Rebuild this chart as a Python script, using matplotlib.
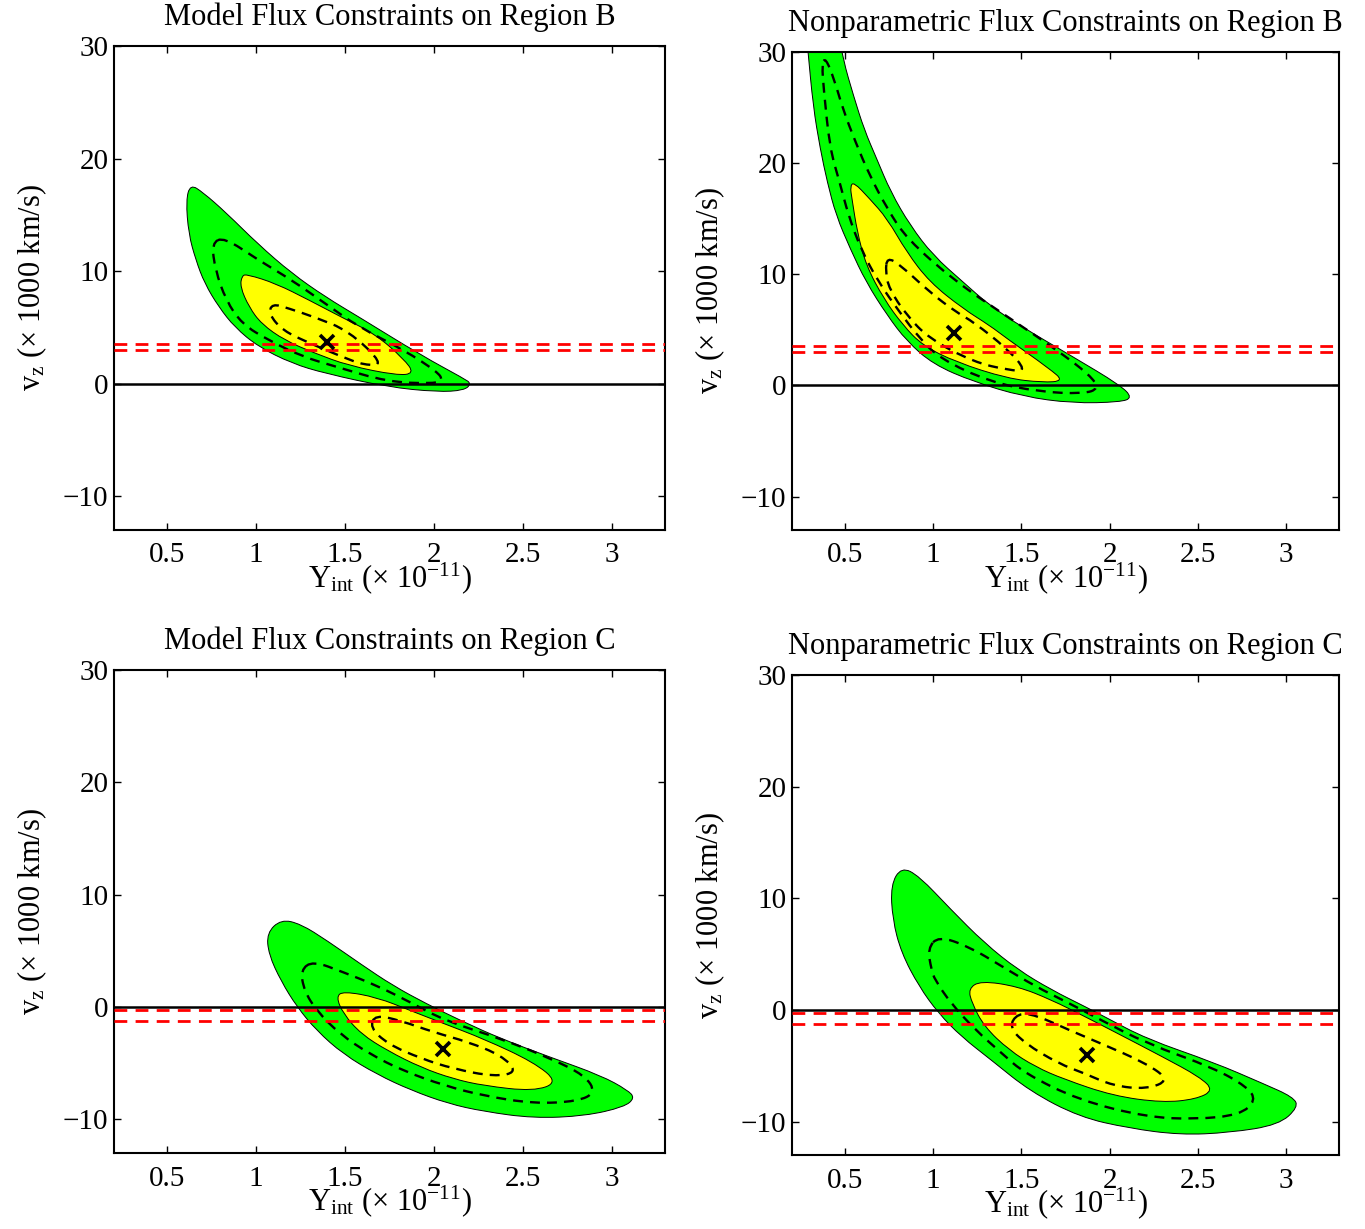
import numpy as np
import matplotlib.pyplot as plt
from matplotlib.path import Path
from matplotlib.patches import PathPatch

plt.rcParams['font.family'] = ['Liberation Serif', 'DejaVu Serif']
plt.rcParams['mathtext.fontset'] = 'custom'
plt.rcParams['mathtext.rm'] = 'Liberation Serif'
plt.rcParams['mathtext.it'] = 'Liberation Serif:italic'
plt.rcParams['axes.unicode_minus'] = True

# ---- data (Y_int in 1e-11, v_z in 1000 km/s) ----
titles = ['Model Flux Constraints on Region B',
          'Nonparametric Flux Constraints on Region B',
          'Model Flux Constraints on Region C',
          'Nonparametric Flux Constraints on Region C']

x_ticks = [0.5, 1, 1.5, 2, 2.5, 3]
x_tick_labels = ['0.5', '1', '1.5', '2', '2.5', '3']
y_ticks = [-10, 0, 10, 20, 30]

# best-fit points
best_x = [1.40, 1.12, 2.05, 1.87]
best_y = [3.7, 4.7, -3.7, -4.05]

# measured v_z band (red dashed lines)
band_lo = [3.0, 3.0, -1.2, -1.22]
band_hi = [3.5, 3.55, -0.25, -0.24]

# contour outlines, traced round each closed curve
# region B, model
tl_green_x = [0.63, 0.70, 0.83, 1.01, 1.20, 1.39, 1.58, 1.93, 2.17, 2.21, 2.17, 2.02, 1.74, 1.39, 1.20, 1.01, 0.88, 0.79, 0.71, 0.66, 0.62, 0.605]
tl_green_y = [17.7, 17.0, 15.2, 12.4, 9.8, 7.7, 5.9, 2.5, 0.44, 0.0, -0.6, -0.74, -0.3, 0.9, 1.8, 3.3, 5.0, 6.8, 8.9, 11.0, 13.3, 16.3]
tl_yellow_x = [0.95, 1.11, 1.30, 1.48, 1.67, 1.83, 1.89, 1.79, 1.52, 1.33, 1.16, 1.03, 0.96, 0.91, 0.92]
tl_yellow_y = [9.7, 8.9, 7.4, 5.9, 4.4, 2.2, 0.9, 0.74, 1.6, 2.7, 3.85, 5.3, 6.8, 8.6, 9.6]
tl_dash1_x = [0.82, 1.01, 1.20, 1.39, 1.58, 1.83, 2.02, 2.05, 2.00, 1.74, 1.45, 1.26, 1.07, 0.92, 0.83, 0.77, 0.75]
tl_dash1_y = [13.0, 11.0, 9.2, 7.1, 5.0, 3.0, 1.04, 0.3, 0.0, 0.15, 1.5, 2.4, 3.85, 5.3, 7.4, 10.1, 12.5]
tl_dash2_x = [1.09, 1.18, 1.33, 1.52, 1.72, 1.61, 1.48, 1.30, 1.15, 1.07]
tl_dash2_y = [7.1, 6.7, 5.9, 4.7, 1.7, 1.63, 2.4, 3.6, 4.7, 6.2]

# region B, nonparametric (runs off the top of the axes)
tr_green_x = [0.44, 0.49, 0.55, 0.61, 0.68, 0.76, 0.87, 1.00, 1.17, 1.32, 1.51, 1.79, 2.06, 2.13, 2.06, 1.79, 1.51, 1.23, 1.00, 0.85, 0.74, 0.62, 0.53, 0.45, 0.40, 0.36, 0.32, 0.29, 0.27, 0.35]
tr_green_y = [33.5, 29.3, 26.0, 23.0, 20.4, 17.4, 14.4, 11.7, 9.3, 7.2, 5.2, 2.6, 0.03, -1.1, -1.5, -1.6, -1.0, 0.33, 1.9, 4.0, 6.3, 9.3, 12.3, 15.3, 18.3, 21.3, 25.1, 30.2, 33.5, 36.0]
tr_yellow_x = [0.55, 0.64, 0.74, 0.85, 0.98, 1.17, 1.32, 1.42, 1.66, 1.74, 1.62, 1.42, 1.13, 0.94, 0.83, 0.72, 0.62, 0.57, 0.54, 0.53]
tr_yellow_y = [18.3, 16.8, 15.0, 12.0, 9.3, 6.9, 5.4, 4.2, 1.5, 0.4, 0.27, 0.63, 2.1, 3.6, 5.4, 7.8, 10.8, 13.8, 16.8, 17.9]
tr_dash1_x = [0.39, 0.44, 0.49, 0.56, 0.64, 0.74, 0.85, 1.13, 1.42, 1.70, 1.89, 1.94, 1.85, 1.60, 1.32, 1.04, 0.92, 0.81, 0.69, 0.59, 0.52, 0.47, 0.415, 0.38, 0.37]
tr_dash1_y = [29.5, 27.5, 24.8, 21.9, 18.9, 15.9, 13.2, 9.3, 6.2, 3.2, 0.92, -0.3, -0.75, -0.57, 0.33, 2.4, 4.3, 6.6, 9.3, 12.3, 15.3, 18.3, 21.3, 26.6, 28.9]
tr_dash2_x = [0.74, 0.81, 0.98, 1.13, 1.23, 1.42, 1.53, 1.43, 1.23, 0.98, 0.85, 0.75, 0.73]
tr_dash2_y = [11.5, 10.9, 8.4, 6.6, 5.7, 3.3, 1.3, 1.37, 2.1, 4.2, 6.3, 8.7, 10.3]

# region C, model
bl_green_x = [1.14, 1.25, 1.40, 1.59, 1.77, 1.96, 2.15, 2.38, 2.66, 2.94, 3.09, 3.13, 3.07, 2.85, 2.56, 2.28, 2.08, 1.87, 1.68, 1.49, 1.34, 1.23, 1.14, 1.07, 1.06]
bl_green_y = [7.8, 7.4, 5.9, 3.8, 1.9, 0.27, -1.2, -2.84, -4.5, -6.1, -7.4, -8.1, -8.9, -9.7, -9.9, -9.3, -8.6, -7.4, -6.0, -4.2, -2.1, 0.0, 2.3, 4.7, 6.6]
bl_yellow_x = [1.49, 1.68, 1.87, 2.06, 2.28, 2.56, 2.70, 2.56, 2.28, 2.11, 1.93, 1.74, 1.59, 1.49, 1.45]
bl_yellow_y = [1.4, 0.86, -0.33, -1.5, -2.84, -4.9, -6.7, -7.5, -7.0, -6.4, -5.4, -3.9, -2.4, -0.6, 0.9]
bl_dash1_x = [1.32, 1.49, 1.68, 1.87, 2.06, 2.38, 2.66, 2.85, 2.91, 2.81, 2.56, 2.28, 2.06, 1.83, 1.64, 1.47, 1.34, 1.27, 1.25]
bl_dash1_y = [4.1, 3.1, 1.9, 0.4, -1.2, -2.84, -4.6, -6.1, -7.6, -8.4, -8.6, -7.9, -7.0, -5.7, -4.2, -2.4, -0.33, 1.45, 3.3]
bl_dash2_x = [1.67, 1.81, 2.00, 2.19, 2.38, 2.47, 2.34, 2.11, 1.93, 1.74, 1.64]
bl_dash2_y = [-0.7, -1.2, -2.25, -3.1, -4.3, -5.8, -6.2, -5.5, -4.6, -3.3, -1.8]

# region C, nonparametric
br_green_x = [0.82, 0.92, 1.10, 1.29, 1.48, 1.67, 1.86, 1.97, 2.21, 2.59, 2.87, 3.04, 3.07, 2.96, 2.68, 2.40, 2.11, 1.83, 1.55, 1.33, 1.16, 1.03, 0.92, 0.82, 0.77, 0.76]
br_green_y = [12.8, 12.0, 9.0, 6.0, 3.6, 1.8, 0.3, -0.6, -2.6, -4.7, -6.6, -7.8, -8.7, -10.3, -11.0, -11.2, -10.6, -9.6, -7.3, -4.5, -2.4, -0.3, 2.1, 5.1, 8.1, 11.2]
br_yellow_x = [1.27, 1.48, 1.67, 1.86, 2.02, 2.30, 2.51, 2.59, 2.49, 2.30, 2.02, 1.74, 1.58, 1.43, 1.29, 1.22, 1.20]
br_yellow_y = [2.6, 2.1, 0.9, -0.6, -1.9, -4.2, -6.0, -7.2, -8.0, -8.3, -7.7, -6.2, -5.1, -3.6, -1.5, 0.6, 1.9]
br_dash1_x = [1.03, 1.20, 1.39, 1.58, 1.77, 1.95, 2.21, 2.59, 2.78, 2.83, 2.74, 2.49, 2.21, 1.83, 1.52, 1.39, 1.24, 1.10, 1.01, 0.99, 0.97]
br_dash1_y = [6.6, 5.7, 3.9, 2.1, 0.6, -0.9, -3.0, -5.2, -6.9, -8.1, -9.4, -9.8, -9.6, -8.1, -5.7, -3.9, -1.8, 0.6, 2.7, 3.6, 5.5]
br_dash2_x = [1.48, 1.58, 1.77, 1.95, 2.21, 2.34, 2.21, 2.02, 1.86, 1.71, 1.52, 1.43]
br_dash2_y = [-0.3, -0.45, -1.8, -3.0, -4.8, -6.3, -7.1, -6.8, -5.7, -4.8, -3.0, -1.5]

panels = [
    (tl_green_x, tl_green_y, tl_yellow_x, tl_yellow_y, tl_dash1_x, tl_dash1_y, tl_dash2_x, tl_dash2_y),
    (tr_green_x, tr_green_y, tr_yellow_x, tr_yellow_y, tr_dash1_x, tr_dash1_y, tr_dash2_x, tr_dash2_y),
    (bl_green_x, bl_green_y, bl_yellow_x, bl_yellow_y, bl_dash1_x, bl_dash1_y, bl_dash2_x, bl_dash2_y),
    (br_green_x, br_green_y, br_yellow_x, br_yellow_y, br_dash1_x, br_dash1_y, br_dash2_x, br_dash2_y),
]

# axes boxes in figure fractions (left, bottom, width, height)
boxes = [(0.0835, 0.5688, 0.4037, 0.3938),
         (0.5802, 0.5688, 0.4007, 0.3889),
         (0.0835, 0.0618, 0.4037, 0.3930),
         (0.5802, 0.0602, 0.4007, 0.3906)]


def closed_curve(xs, ys):
    """Closed quadratic B-spline with the read points as control points."""
    p = np.column_stack([xs, ys]).astype(float)
    n = len(p)
    mid = (p + np.roll(p, -1, axis=0)) / 2.0
    verts = [mid[-1]]
    codes = [Path.MOVETO]
    for i in range(n):
        verts += [p[i], mid[i]]
        codes += [Path.CURVE3, Path.CURVE3]
    verts.append(mid[-1])
    codes.append(Path.CLOSEPOLY)
    return Path(verts, codes)


fig = plt.figure(figsize=(13.65, 12.29), dpi=100)

for k, (gx, gy, yx, yy, d1x, d1y, d2x, d2y) in enumerate(panels):
    ax = fig.add_axes(boxes[k])

    ax.add_patch(PathPatch(closed_curve(gx, gy), facecolor=(0, 1, 0),
                           edgecolor='black', lw=0.7, zorder=1))
    ax.add_patch(PathPatch(closed_curve(yx, yy), facecolor=(1, 1, 0),
                           edgecolor='black', lw=0.7, zorder=2))
    for dx, dy in [(d1x, d1y), (d2x, d2y)]:
        ax.add_patch(PathPatch(closed_curve(dx, dy), fill=False, edgecolor='black',
                               lw=1.7, linestyle=(0, (4.2, 3.0)), zorder=3))

    ax.axhline(0, color='black', lw=1.8, zorder=4)
    for v in (band_lo[k], band_hi[k]):
        ax.axhline(v, color='red', lw=2.0, linestyle=(0, (4.6, 3.0)), zorder=5)

    ax.plot(best_x[k], best_y[k], marker='x', color='black', ms=10, mew=2.6,
            linestyle='none', zorder=6)

    ax.set_xlim(0.2, 3.3)
    ax.set_ylim(-13, 30)
    ax.set_xticks(x_ticks)
    ax.set_xticklabels(x_tick_labels)
    ax.set_yticks(y_ticks)
    ax.tick_params(direction='in', length=5, width=1, top=True, right=True,
                   labelsize=21)
    ax.tick_params(axis='x', pad=9)
    ax.tick_params(axis='y', pad=4)
    for s in ax.spines.values():
        s.set_linewidth(1.5)

    ax.set_title(titles[k], fontsize=22, pad=15)
    ax.set_xlabel('Y$_{\\mathrm{int}}$ (× 10$^{-11}$)', fontsize=22, labelpad=-6)
    ax.set_ylabel('v$_{\\mathrm{z}}$ (× 1000 km/s)', fontsize=22, labelpad=10)

fig.savefig('out.png', dpi=100)
